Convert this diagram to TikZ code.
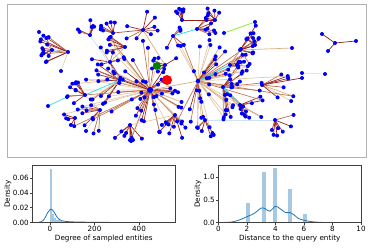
\documentclass[tikz,border=0pt]{standalone}
\usepackage{fontspec}
\setmainfont{DejaVu Sans}
\usepackage{xcolor}
\usetikzlibrary{positioning}

\definecolor{netblue}{RGB}{0,0,245}
\definecolor{netred}{RGB}{255,0,0}
\definecolor{netgreen}{RGB}{0,128,0}
\definecolor{edgered}{RGB}{150,35,25}
\definecolor{edgetan}{RGB}{218,175,125}
\definecolor{edgeorange}{RGB}{228,125,80}
\definecolor{edgecyan}{RGB}{30,225,240}
\definecolor{edgesky}{RGB}{205,228,248}
\definecolor{edgelime}{RGB}{130,235,30}
\definecolor{barblue}{RGB}{166,200,226}
\definecolor{kdeblue}{RGB}{31,119,180}
% short spokes 0-2, long spokes 3-5
\colorlet{ec0}{edgered}
\colorlet{ec1}{edgered!85!edgetan}
\colorlet{ec2}{edgered!50!edgetan}
\colorlet{ec3}{edgetan}
\colorlet{ec4}{edgetan!70}
\colorlet{ec5}{edgered!40!edgetan}
\colorlet{ec6}{edgesky}

% hub x / hub y / spokes / min angle / max angle / min length / max length / hub size
\def\hublist{150/90/46/0/360/8/50/6, 198/81/34/-120/120/8/46/4.5,
  223/87/22/-60/90/8/40/4, 68/52/9/140/220/22/30/4,
  182/20/6/200/300/8/12/4, 113/33/7/190/280/10/16/4,
  125/47/6/160/230/12/22/4, 143/30/8/0/360/8/20/4,
  173/36/6/0/360/8/18/4, 197/29/7/-80/40/8/20/4,
  90/35/6/180/300/8/16/4, 52/50/5/100/250/6/14/4,
  120/80/12/120/240/20/50/4, 100/110/10/90/220/10/25/4,
  130/125/8/40/150/8/20/4, 175/115/10/20/150/8/25/4,
  205/120/7/40/150/8/18/4, 240/50/8/-60/60/10/30/4,
  262/85/7/-40/40/15/35/4, 275/120/7/-30/130/8/22/4,
  240/105/8/-40/100/8/25/4, 230/65/8/-60/60/6/20/4,
  165/65/6/0/360/6/14/4, 85/95/8/140/250/8/20/4,
  110/62/8/0/360/8/20/4, 75/118/5/90/200/6/14/4,
  255/45/6/200/300/6/14/4, 215/20/6/0/360/6/14/4}

\begin{document}
\begin{tikzpicture}[x=1pt, y=-1pt,
    dot/.style={circle, fill=netblue, inner sep=0pt, minimum size=4pt},
    spoke/.style={line width=0.7pt},
    frame/.style={draw=black!30, line width=1pt},
    spine/.style={draw=black!75, line width=0.6pt},
    ticklabel/.style={inner sep=1pt, font=\fontsize{7.2}{8}\selectfont},
    axlabel/.style={inner sep=0pt, font=\fontsize{7.2}{8}\selectfont},
    bar/.style={fill=barblue, draw=none},
    kde/.style={draw=kdeblue, line width=0.8pt}
]
\useasboundingbox (0,0) rectangle (371,247);

% network panel
\draw[frame] (7,4.5) rectangle (366.5,157);
\pgfmathsetseed{4242}
\begin{scope}
\clip (8,5.5) rectangle (365.5,156);
\foreach \hx/\hy/\n/\amin/\amax/\lmin/\lmax/\hs [count=\i] in \hublist {
  \coordinate (h\i) at (\hx,\hy);
  \foreach \k in {1,...,\n} {
    \pgfmathsetmacro\ang{\amin+rnd*(\amax-\amin)}
    \pgfmathsetmacro\len{\lmin+rnd*(\lmax-\lmin)}
    \pgfmathtruncatemacro\ci{(\len>32)*3+2.99*rnd}
    \coordinate (p\i-\k) at ([shift={(\ang:\len)}]h\i);
    \draw[spoke, ec\ci] (h\i) -- (p\i-\k);
  }
}
% long links from the two big hubs
\foreach \i in {7,13,14,15,16,24,25,26} {
  \draw[spoke, ec4] (h1) -- (p\i-1);
  \draw[spoke, ec5] (h1) -- (p\i-2);
}
\foreach \i in {3,9,17,18,19,21,22} {
  \draw[spoke, ec4] (h2) -- (p\i-1);
  \draw[spoke, ec5] (h2) -- (p\i-2);
}
% links between hubs
\draw[spoke, edgetan] (h1) -- (h2);
\draw[spoke, edgetan] (h2) -- (h3);
\draw[spoke, edgered] (h1) -- (h13);
\draw[spoke, edgetan!70] (h1) -- (h16);
\draw[spoke, edgetan] (h8) -- (h23);
\draw[spoke, edgetan!70] (h3) -- (h19);
\draw[spoke, edgesky] (h4) -- (h12);
\draw[spoke, edgetan] (h3) -- (h21);
\draw[spoke, edgered] (h18) -- (h27);
\draw[spoke, edgetan!70] (h14) -- (h24);
\draw[spoke, edgetan] (h7) -- (h25);
\draw[spoke, edgered!70!edgetan] (h6) -- (h8);
\draw[spoke, edgesky] (h11) -- (h13);
\draw[spoke, edgetan!70] (h15) -- (h16);
\draw[spoke, edgesky] (h17) -- (h20);
\draw[spoke, edgetan] (h22) -- (h18);
\draw[spoke, edgered] (h5) -- (h28);
% single links
\coordinate (a1) at (48,106);
\coordinate (a2) at (67,97);
\coordinate (a3) at (255,22);
\coordinate (a4) at (224,33);
\coordinate (a5) at (325,74);
\coordinate (a6) at (302,73);
\coordinate (a7) at (302,78);
\coordinate (a8) at (292,48);
\coordinate (a9) at (39,32);
\coordinate (a10) at (61,71);
\coordinate (a11) at (86,131);
\coordinate (a12) at (133,140);
\coordinate (t0) at (335,43);
\coordinate (t1) at (322,34);
\coordinate (t2) at (328,51);
\coordinate (t3) at (356,41);
\draw[spoke, edgecyan] (a1) -- (a2);
\draw[spoke, edgelime] (a3) -- (a4);
\draw[spoke, edgesky] (a5) -- (a6);
\draw[spoke, edgered] (a7) -- (h19);
\draw[spoke, edgetan] (a8) -- (h18);
\draw[spoke, edgesky] (a9) -- (h12);
\draw[spoke, edgetan!60] (a10) -- (h4);
\draw[spoke, edgetan!60] (a11) -- (h14);
\draw[spoke, edgered] (a12) -- (h15);
\draw[spoke, edgecyan] (h13) -- (h24);
\draw[spoke, edgecyan] (h2) -- (h22);
\draw[spoke, edgecyan] (h3) -- (h21);
\draw[spoke, edgecyan] (h9) -- (h10);
\draw[spoke, edgered] (t0) -- (t1);
\draw[spoke, edgered] (t0) -- (t2);
\draw[spoke, edgered] (t0) -- (t3);
% dots on top
\foreach \hx/\hy/\n/\amin/\amax/\lmin/\lmax/\hs [count=\i] in \hublist {
  \foreach \k in {1,...,\n} {
    \node[dot] (n\i-\k) at (p\i-\k) {};
  }
  \node[dot, minimum size=\hs pt] (hub\i) at (h\i) {};
}
\foreach \j in {1,...,12} {
  \node[dot] (b\j) at (a\j) {};
}
\foreach \j in {0,...,3} {
  \node[dot] (tn\j) at (t\j) {};
}
\node[circle, fill=netgreen, inner sep=0pt, minimum size=8pt] (query) at (157,66) {};
\node[circle, fill=netred, inner sep=0pt, minimum size=10pt] (target) at (167,80) {};
\end{scope}

% left plot: degree
\begin{scope}[shift={(50,222.5)}, x=0.2225pt, y=742pt]
\fill[bar] (0,0) rectangle (10,0.072);
\fill[bar] (10,0) rectangle (19,0.0115);
\fill[bar] (19,0) rectangle (28,0.006);
\fill[bar] (28,0) rectangle (37,0.004);
\fill[bar] (37,0) rectangle (46,0.003);
\fill[bar] (46,0) rectangle (55,0.002);
\fill[bar] (55,0) rectangle (82,0.0012);
\fill[bar] (82,0) rectangle (130,0.0006);
\draw[kde] plot[smooth] coordinates {(-55,0) (-40,0.001) (-30,0.003) (-20,0.0075)
  (-10,0.0135) (0,0.0172) (5,0.018) (10,0.0172) (20,0.0133) (30,0.008) (40,0.0045)
  (55,0.0022) (80,0.0012) (120,0.0007) (200,0.0003) (300,0.0001) (540,0)};
\end{scope}
\draw[spine] (32.5,165) rectangle (175,222.5);
\foreach \v/\t [count=\j] in {0/0.00, 0.02/0.02, 0.04/0.04, 0.06/0.06} {
  \draw[spine] (32.5,222.5-742*\v) -- ++(-2.5,0);
  \node[ticklabel, anchor=east] (ly\j) at (30,222.5-742*\v) {\t};
}
\foreach \v [count=\j] in {0,200,400} {
  \draw[spine] (50+0.2225*\v,222.5) -- ++(0,2.5);
  \node[ticklabel, anchor=north] (lx\j) at (50+0.2225*\v,225) {\v};
}
\node[axlabel] (ldeg) at (103.75,239) {Degree of sampled entities};
\node[axlabel, rotate=90] (ldens) at (8,194) {Density};

% right plot: distance
\begin{scope}[shift={(218.5,222.5)}, x=14.25pt, y=45.2pt]
\fill[bar] (1.92,0) rectangle (2.2,0.43);
\fill[bar] (3.02,0) rectangle (3.3,1.11);
\fill[bar] (3.8,0) rectangle (4.08,1.21);
\fill[bar] (4.86,0) rectangle (5.14,0.74);
\fill[bar] (5.9,0) rectangle (6.18,0.18);
\draw[kde] plot[smooth] coordinates {(0,0) (0.5,0.003) (1,0.015) (1.5,0.06) (2,0.13)
  (2.5,0.2) (3,0.32) (3.3,0.3) (3.6,0.25) (4,0.36) (4.3,0.31) (4.7,0.22) (5,0.22)
  (5.3,0.17) (5.6,0.09) (6,0.05) (6.5,0.02) (7,0.006) (7.5,0.001) (8,0)};
\end{scope}
\draw[spine] (218.5,165) rectangle (361,222.5);
\foreach \v/\t [count=\j] in {0/0.0, 0.5/0.5, 1/1.0} {
  \draw[spine] (218.5,222.5-45.2*\v) -- ++(-2.5,0);
  \node[ticklabel, anchor=east] (ry\j) at (216,222.5-45.2*\v) {\t};
}
\foreach \v [count=\j] in {0,2,...,10} {
  \draw[spine] (218.5+14.25*\v,222.5) -- ++(0,2.5);
  \node[ticklabel, anchor=north] (rx\j) at (218.5+14.25*\v,225) {\v};
}
\node[axlabel] (rdist) at (289.75,239) {Distance to the query entity};
\node[axlabel, rotate=90] (rdens) at (198,194) {Density};
\end{tikzpicture}
\end{document}
